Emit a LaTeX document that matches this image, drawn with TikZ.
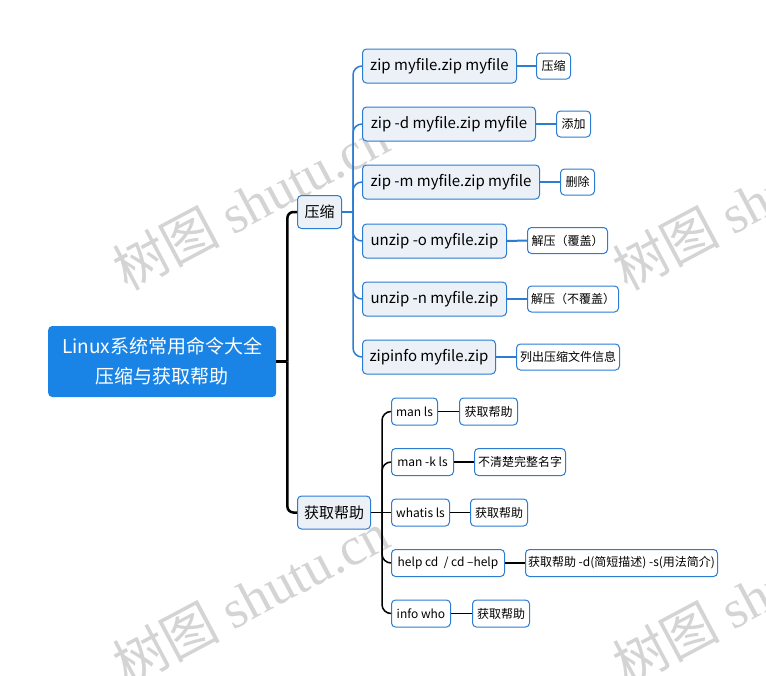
\documentclass[tikz,border=0pt]{standalone}
\usepackage{fontspec}
\setmainfont{Noto Sans CJK SC}
\newfontfamily\wmcjk{Noto Sans CJK SC}
\newfontfamily\wmlat{Liberation Serif}
\definecolor{rootblue}{HTML}{1A84E6}
\definecolor{bord}{HTML}{2B7CD3}
\definecolor{lonefill}{HTML}{EBF1F7}
\definecolor{wmgray}{HTML}{D4D4D4}
\begin{document}
\begin{tikzpicture}[x=1pt,y=-1pt,
  rootnode/.style={rectangle, rounded corners=4pt, fill=rootblue, text=white, anchor=west,
    minimum width=228, minimum height=71, align=center, inner sep=0,
    font=\fontsize{19}{30}\selectfont},
  lone/.style={rectangle, draw=bord, line width=1pt, fill=lonefill, rounded corners=4pt,
    anchor=west, minimum height=33, inner sep=0, font=\fontsize{15}{18}\selectfont},
  zipnode/.style={lone, minimum height=34},
  leaf/.style={rectangle, draw=bord, line width=1pt, fill=white, rounded corners=4pt,
    anchor=west, minimum height=26, inner sep=0, font=\fontsize{12}{14}\selectfont},
  helpnode/.style={leaf, minimum height=27},
  trunk/.style={line width=2.5pt, black},
  blueline/.style={line width=1.5pt, draw=bord},
  blueleafline/.style={line width=2pt, draw=bord},
  blackline/.style={line width=1.5pt, black},
  wm/.style={text=wmgray, anchor=base west, rotate=28, inner sep=0, font=\fontsize{54}{60}\selectfont}
]
\useasboundingbox (0,0) rectangle (766,675);
\begin{scope}
\clip (0,0) rectangle (766,675);
\node[wm] (wm1) at (127,292) {{\wmcjk 树图} {\wmlat shutu.cn}};
\node[wm] (wm2) at (627,292) {{\wmcjk 树图} {\wmlat shutu.cn}};
\node[wm] (wm3) at (127,687) {{\wmcjk 树图} {\wmlat shutu.cn}};
\node[wm] (wm4) at (627,687) {{\wmcjk 树图} {\wmlat shutu.cn}};
\end{scope}

% root and level 1
\node[rootnode] (root) at (48,361.5) {Linux系统常用命令大全\\压缩与获取帮助};
\node[lone, minimum width=44] (ya) at (297,212) {压缩};
\node[lone, minimum width=73] (huo) at (297,512.5) {获取帮助};

% zip branch
\node[zipnode, minimum width=154] (z1) at (362,66) {zip myfile.zip myfile};
\node[zipnode, minimum width=173] (z2) at (362,124) {zip -d myfile.zip myfile};
\node[zipnode, minimum width=177] (z3) at (362,182) {zip -m myfile.zip myfile};
\node[zipnode, minimum width=144] (z4) at (362,241) {unzip -o myfile.zip};
\node[zipnode, minimum width=144] (z5) at (362,299) {unzip -n myfile.zip};
\node[zipnode, minimum width=133] (z6) at (362,357) {zipinfo myfile.zip};

\node[leaf, minimum width=34] (a1) at (536,66) {压缩};
\node[leaf, minimum width=34] (a2) at (556,124) {添加};
\node[leaf, minimum width=34] (a3) at (560,182) {删除};
\node[leaf, minimum width=80] (a4) at (527,240.5) {解压（覆盖）};
\node[leaf, minimum width=91] (a5) at (527,299) {解压（不覆盖）};
\node[leaf, minimum width=103] (a6) at (516,357) {列出压缩文件信息};

% help branch
\node[helpnode, minimum width=46] (h1) at (391,411.5) {man ls};
\node[helpnode, minimum width=62] (h2) at (391,462) {man -k ls};
\node[helpnode, minimum width=58] (h3) at (391,512.5) {whatis ls};
\node[helpnode, minimum width=113] (h4) at (391,563) {help cd\ \ / cd –help};
\node[helpnode, minimum width=59] (h5) at (391,613.5) {info who};

\node[helpnode, minimum width=58] (b1) at (459,411.5) {获取帮助};
\node[helpnode, minimum width=91] (b2) at (474,462) {不清楚完整名字};
\node[helpnode, minimum width=57] (b3) at (470,512.5) {获取帮助};
\node[helpnode, minimum width=192] (b4) at (525,563) {获取帮助 -d(简短描述) -s(用法简介)};
\node[helpnode, minimum width=57] (b5) at (472,613.5) {获取帮助};

% connectors
\coordinate (tj) at ([xshift=11pt]root.east);
\draw[trunk] (root.east) -- (tj);
\draw[trunk, rounded corners=6pt] (tj) |- (ya.west);
\draw[trunk, rounded corners=6pt] (tj) |- (huo.west);

\coordinate (zj) at ([xshift=11pt]ya.east);
\draw[blueline] (ya.east) -- (zj);
\foreach \c in {z1,z2,z3,z4,z5,z6}{
  \draw[blueline, rounded corners=9pt] (zj) |- (\c.west);
}
\draw[blueleafline] (z1.east) -- (a1.west);
\draw[blueleafline] (z2.east) -- (a2.west);
\draw[blueleafline] (z3.east) -- (a3.west);
\draw[blueleafline] (z4.east) -- (a4.west);
\draw[blueleafline] (z5.east) -- (a5.west);
\draw[blueleafline] (z6.east) -- (a6.west);

\coordinate (hj) at ([xshift=11pt]huo.east);
\draw[blackline] (huo.east) -- (hj);
\foreach \c in {h1,h2,h4,h5}{
  \draw[blackline, rounded corners=9pt] (hj) |- (\c.west);
}
\draw[blackline] (hj) -- (h3.west);
\draw[blackline] (h1.east) -- (b1.west);
\draw[blackline] (h2.east) -- (b2.west);
\draw[blackline] (h3.east) -- (b3.west);
\draw[blackline] (h4.east) -- (b4.west);
\draw[blackline] (h5.east) -- (b5.west);
\end{tikzpicture}
\end{document}
